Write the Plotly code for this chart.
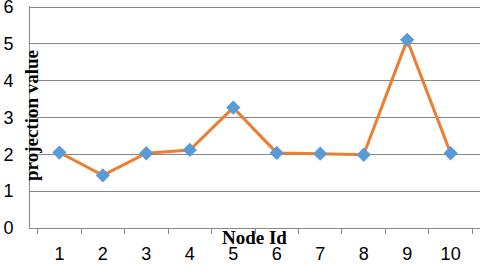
import plotly.graph_objects as go

node_ids = ["1", "2", "3", "4", "5", "6", "7", "8", "9", "10"]
projection = [2.05, 1.43, 2.03, 2.12, 3.27, 2.04, 2.02, 1.99, 5.11, 2.03]
y_ticks = [0, 1, 2, 3, 4, 5, 6]

fig = go.Figure()
fig.add_trace(go.Scatter(
    x=node_ids, y=projection, mode="lines+markers",
    line=dict(color="#ED7D31", width=3),
    marker=dict(symbol="diamond", size=11, color="#5B9BD5"),
))

fig.update_layout(
    width=486, height=274,
    margin=dict(l=30, r=6, t=6, b=46),
    paper_bgcolor="white", plot_bgcolor="white",
    showlegend=False,
    font=dict(family="Liberation Sans, Arial", size=18, color="black"),
    xaxis=dict(
        type="category", tickson="boundaries", ticks="outside", ticklen=5,
        tickcolor="#888888", showline=True, linecolor="#888888", linewidth=1,
        showgrid=False, automargin=False, ticklabelstandoff=9,
    ),
    yaxis=dict(
        range=[0, 6.03], tickmode="array", tickvals=y_ticks,
        ticktext=[str(v) for v in y_ticks], ticklabeloverflow="allow",
        showgrid=True, gridcolor="#888888",
        gridwidth=1, showline=True, linecolor="#888888", linewidth=1,
        zeroline=False, ticks="outside", ticklen=12, tickcolor="rgba(0,0,0,0)",
        automargin=False,
    ),
    annotations=[
        dict(text="<b>projection value</b>", textangle=-90, xref="paper", yref="paper",
             x=(31 - 30) / 450, y=(228 - 116) / 222, showarrow=False,
             font=dict(family="Liberation Serif, Times New Roman", size=19, color="black"),
             xanchor="center", yanchor="middle"),
        dict(text="<b>Node Id</b>", xref="paper", yref="paper",
             x=(254 - 30) / 450, y=(228 - 237) / 222, showarrow=False,
             font=dict(family="Liberation Serif, Times New Roman", size=19, color="black"),
             xanchor="center", yanchor="middle"),
    ],
)

fig.write_html("out.html")
